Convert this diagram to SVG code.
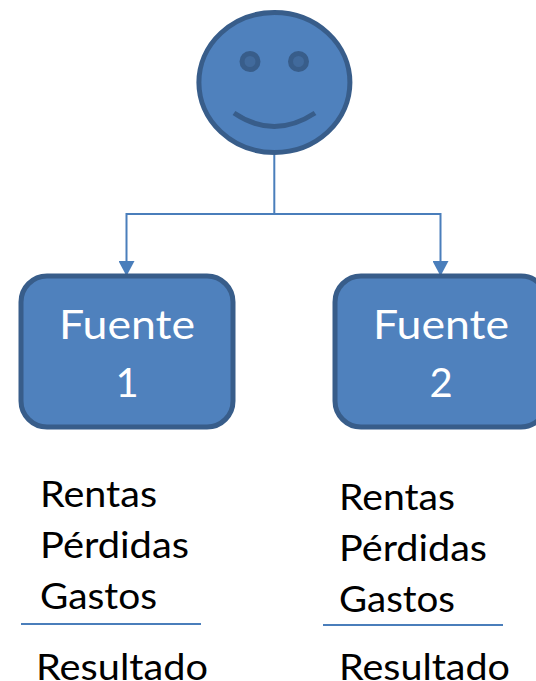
<svg xmlns="http://www.w3.org/2000/svg" width="536" height="681" viewBox="0 0 536 681">
<style>
.t{font-family:"Lato","Open Sans",sans-serif;font-size:37.500px;fill:#000}
.w{font-family:"Lato","Open Sans",sans-serif;font-size:40px;fill:#fff;text-anchor:middle}
.b{fill:#4f81bd;stroke:#385d8a;stroke-width:5}
.c{fill:none;stroke:#4a7ebb;stroke-width:2}
</style>
<defs><marker id="a" markerUnits="userSpaceOnUse" markerWidth="15" markerHeight="16" refX="14" refY="8" orient="auto"><path d="M0 0L15 8L0 16Z" fill="#4a7ebb"/></marker></defs>
<g id="connectors">
<path class="c" d="M274.300 155V214H126.500V275" marker-end="url(#a)"/>
<path class="c" d="M274.300 214H440.500V275" marker-end="url(#a)"/>
<path class="c" d="M21 624H201"/>
<path class="c" d="M323 625H503"/>
</g>
<g id="face">
<ellipse class="b" cx="274.400" cy="82.500" rx="75.500" ry="70"/>
<circle cx="250" cy="61.500" r="8" fill="#416a9c" stroke="#385d8a" stroke-width="5"/>
<circle cx="298.500" cy="61.500" r="8" fill="#416a9c" stroke="#385d8a" stroke-width="5"/>
<path d="M234 113Q274 140 315 113" fill="none" stroke="#385d8a" stroke-width="5"/>
</g>
<g id="fuente1"><rect class="b" x="21" y="276" width="212" height="151" rx="26"/><text class="w" x="127" y="338.500" textLength="136" lengthAdjust="spacingAndGlyphs">Fuente</text><text class="w" x="127" y="397">1</text></g>
<g id="fuente2"><rect class="b" x="335" y="276" width="212" height="151" rx="26"/><text class="w" x="441" y="338.500" textLength="136" lengthAdjust="spacingAndGlyphs">Fuente</text><text class="w" x="441" y="397">2</text></g>
<g id="text1"><text class="t" x="40" y="507" textLength="117" lengthAdjust="spacingAndGlyphs">Rentas</text><text class="t" x="40" y="558" textLength="149" lengthAdjust="spacingAndGlyphs">Pérdidas</text><text class="t" x="40" y="609" textLength="117" lengthAdjust="spacingAndGlyphs">Gastos</text><text class="t" x="36" y="680" textLength="172" lengthAdjust="spacingAndGlyphs">Resultado</text></g>
<g id="text2"><text class="t" x="339" y="510" textLength="116" lengthAdjust="spacingAndGlyphs">Rentas</text><text class="t" x="339" y="561" textLength="148" lengthAdjust="spacingAndGlyphs">Pérdidas</text><text class="t" x="339" y="612" textLength="116" lengthAdjust="spacingAndGlyphs">Gastos</text><text class="t" x="339" y="680" textLength="171" lengthAdjust="spacingAndGlyphs">Resultado</text></g>
</svg>
